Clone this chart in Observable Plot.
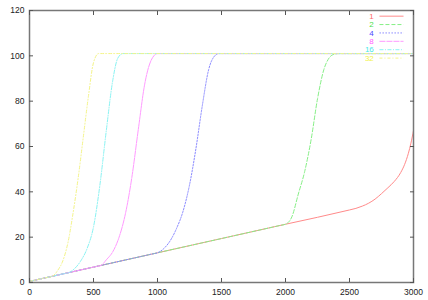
<!DOCTYPE html>
<html><head><meta charset="utf-8">
<script src="https://cdn.jsdelivr.net/npm/d3@7"></script>
<script src="https://cdn.jsdelivr.net/npm/@observablehq/plot@0.6"></script>
<style>body{margin:0;background:#fff}</style>
</head><body><div id="chart"></div>
<script>
const seriesNames = ["1", "2", "4", "8", "16", "32"];

const s1x = [0, 500, 1000, 1500, 2000, 2500, 2550, 2600, 2650, 2700, 2750, 2800, 2850, 2900, 2930, 2960, 2980, 3000];
const s1y = [0.5, 6.8, 13.1, 19.4, 25.7, 32, 32.7, 33.7, 35, 36.8, 39.2, 41.8, 44.6, 48.5, 52, 57, 61.5, 67];

const s2x = [0, 1000, 1900, 1960, 2000, 2050, 2100, 2150, 2200, 2250, 2300, 2340, 2380, 2420, 3000];
const s2y = [0.5, 13.1, 24.44, 25.2, 25.7, 29, 39, 49, 63, 81, 94, 99, 100.7, 101, 101];

const s4x = [0, 500, 900, 960, 1000, 1050, 1100, 1150, 1200, 1250, 1300, 1350, 1400, 1440, 1480, 3000];
const s4y = [0.5, 6.8, 11.84, 12.6, 13.1, 15, 18.5, 24, 31.5, 43, 59, 78, 94, 99.5, 101, 101];

const s8x = [0, 450, 510, 560, 600, 650, 700, 750, 800, 850, 900, 950, 1000, 3000];
const s8y = [0.5, 6.17, 6.93, 7.56, 10, 13.5, 20, 30.5, 46.5, 67.5, 87.5, 98, 101, 101];

const s16x = [0, 260, 310, 350, 400, 450, 500, 550, 600, 650, 690, 730, 3000];
const s16y = [0.5, 3.78, 4.41, 6, 9.5, 15, 24.5, 43, 67, 89, 99, 101, 101];

const s32x = [0, 140, 180, 220, 260, 300, 340, 380, 420, 460, 500, 540, 3000];
const s32y = [0.5, 2.26, 2.77, 5.3, 9.5, 17.5, 30.5, 46, 64, 82, 97, 101, 101];

const xTicks = [0, 500, 1000, 1500, 2000, 2500, 3000];
const yTicks = [0, 20, 40, 60, 80, 100, 120];

const lineColors = ["#ff8a8a", "#86ef86", "#8a8aff", "#ff9aff", "#8af3f3", "#f4f488"];
const textColors = ["#ff6a6a", "#4ade4a", "#4a4aff", "#ff60ff", "#4ae8e8", "#f2f24a"];
const dashes = [null, "4,2", "1.5,1.5", "6,1", "4,1.5,1,1.5", "3,2,1,2"];

const sets = [[s1x, s1y], [s2x, s2y], [s4x, s4y], [s8x, s8y], [s16x, s16y], [s32x, s32y]];

const seriesMarks = [];
const legendMarks = [];
sets.forEach(([xs, ys], i) => {
  const pts = xs.map((x, j) => ({x, y: ys[j]}));
  seriesMarks.push(Plot.line(pts, {x: "x", y: "y", stroke: lineColors[i], strokeWidth: 1, strokeDasharray: dashes[i], curve: "monotone-x"}));
  const ly = 117.5 - 3.7 * i;
  legendMarks.push(Plot.text([seriesNames[i]], {x: 2690, y: ly, text: d => d, fill: textColors[i], textAnchor: "end", fontSize: 8}));
  legendMarks.push(Plot.link([seriesNames[i]], {x1: 2734, x2: 2922, y1: ly, y2: ly, stroke: lineColors[i], strokeWidth: 1, strokeDasharray: dashes[i]}));
});

const chart = Plot.plot({
  width: 428, height: 300,
  marginLeft: 29, marginRight: 15, marginTop: 10, marginBottom: 18,
  x: {domain: [0, 3000]},
  y: {domain: [0, 120]},
  style: {fontFamily: "Liberation Sans, Arial, sans-serif", fontSize: "8.5px", color: "#222", background: "#fff"},
  marks: [
    ...seriesMarks,
    ...legendMarks,
    Plot.frame({stroke: "#777", strokeWidth: 1.5}),
    Plot.axisX({ticks: xTicks, tickSize: -4, tickPadding: 10, tickFormat: d3.format("d"), stroke: "#555", label: null}),
    Plot.axisX({anchor: "top", ticks: xTicks, tickSize: -4, tickFormat: () => "", stroke: "#555", label: null}),
    Plot.axisY({ticks: yTicks, tickSize: -4, tickPadding: 9, tickFormat: d3.format("d"), stroke: "#555", label: null}),
    Plot.axisY({anchor: "right", ticks: yTicks, tickSize: -4, tickFormat: () => "", stroke: "#555", label: null})
  ]
});
document.getElementById("chart").append(chart);
</script>
</body></html>
